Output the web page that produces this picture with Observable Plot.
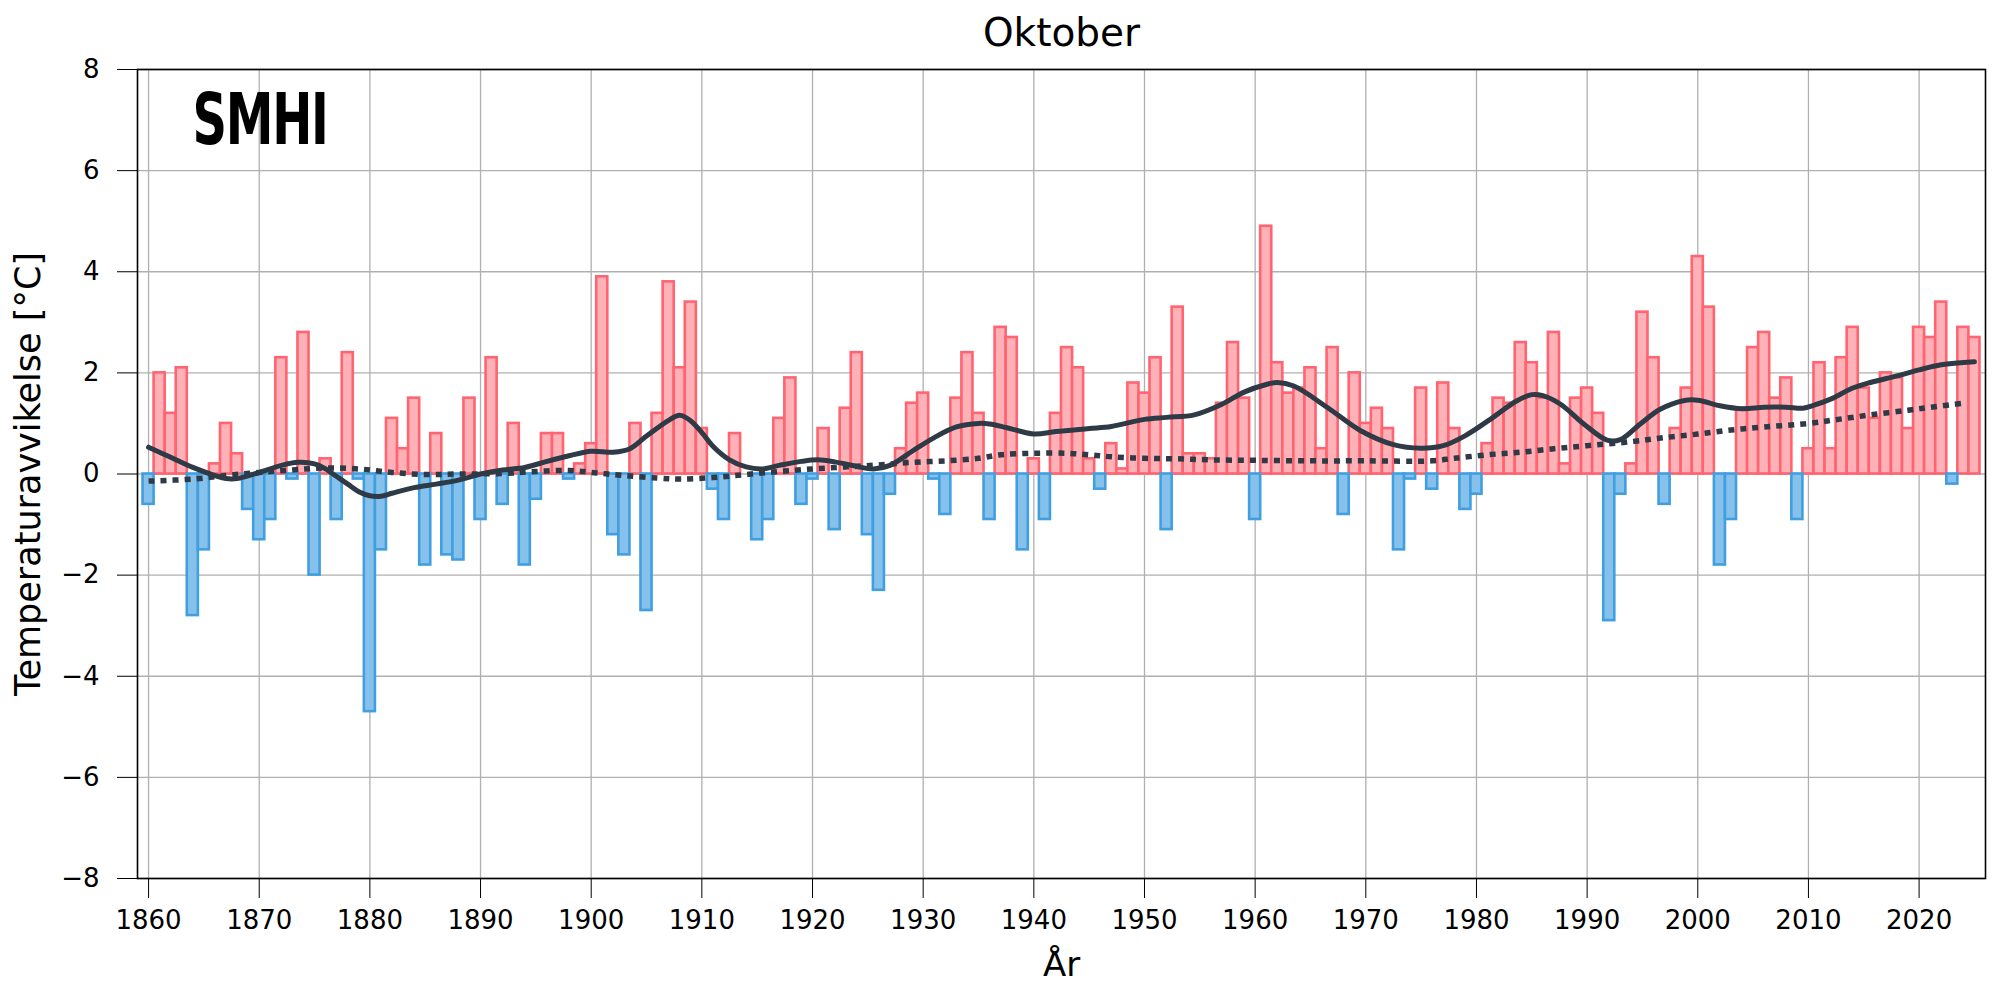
<!DOCTYPE html>
<html>
<head>
<meta charset="utf-8">
<script src="https://cdn.jsdelivr.net/npm/d3@7"></script>
<script src="https://cdn.jsdelivr.net/npm/@observablehq/plot@0.6"></script>
<style>
  html, body { margin: 0; padding: 0; background: #ffffff; }
  #chart svg { display: block; }
</style>
</head>
<body>
<div id="chart"></div>
<script>
// ---- Data ----
const years = [
  1860,1861,1862,1863,1864,1865,1866,1867,1868,1869,
  1870,1871,1872,1873,1874,1875,1876,1877,1878,1879,
  1880,1881,1882,1883,1884,1885,1886,1887,1888,1889,
  1890,1891,1892,1893,1894,1895,1896,1897,1898,1899,
  1900,1901,1902,1903,1904,1905,1906,1907,1908,1909,
  1910,1911,1912,1913,1914,1915,1916,1917,1918,1919,
  1920,1921,1922,1923,1924,1925,1926,1927,1928,1929,
  1930,1931,1932,1933,1934,1935,1936,1937,1938,1939,
  1940,1941,1942,1943,1944,1945,1946,1947,1948,1949,
  1950,1951,1952,1953,1954,1955,1956,1957,1958,1959,
  1960,1961,1962,1963,1964,1965,1966,1967,1968,1969,
  1970,1971,1972,1973,1974,1975,1976,1977,1978,1979,
  1980,1981,1982,1983,1984,1985,1986,1987,1988,1989,
  1990,1991,1992,1993,1994,1995,1996,1997,1998,1999,
  2000,2001,2002,2003,2004,2005,2006,2007,2008,2009,
  2010,2011,2012,2013,2014,2015,2016,2017,2018,2019,
  2020,2021,2022,2023,2024,2025
];
const anomalies = [
  -0.6, 2.0, 1.2, 2.1,-2.8,-1.5, 0.2, 1.0, 0.4,-0.7,
  -1.3,-0.9, 2.3,-0.1, 2.8,-2.0, 0.3,-0.9, 2.4,-0.1,
  -4.7,-1.5, 1.1, 0.5, 1.5,-1.8, 0.8,-1.6,-1.7, 1.5,
  -0.9, 2.3,-0.6, 1.0,-1.8,-0.5, 0.8, 0.8,-0.1, 0.2,
   0.6, 3.9,-1.2,-1.6, 1.0,-2.7, 1.2, 3.8, 2.1, 3.4,
   0.9,-0.3,-0.9, 0.8, 0.0,-1.3,-0.9, 1.1, 1.9,-0.6,
  -0.1, 0.9,-1.1, 1.3, 2.4,-1.2,-2.3,-0.4, 0.5, 1.4,
   1.6,-0.1,-0.8, 1.5, 2.4, 1.2,-0.9, 2.9, 2.7,-1.5,
   0.3,-0.9, 1.2, 2.5, 2.1, 0.3,-0.3, 0.6, 0.1, 1.8,
   1.6, 2.3,-1.1, 3.3, 0.4, 0.4, 0.3, 1.4, 2.6, 1.5,
  -0.9, 4.9, 2.2, 1.6, 1.7, 2.1, 0.5, 2.5,-0.8, 2.0,
   1.0, 1.3, 0.9,-1.5,-0.1, 1.7,-0.3, 1.8, 0.9,-0.7,
  -0.4, 0.6, 1.5, 1.4, 2.6, 2.2, 1.5, 2.8, 0.2, 1.5,
   1.7, 1.2,-2.9,-0.4, 0.2, 3.2, 2.3,-0.6, 0.9, 1.7,
   4.3, 3.3,-1.8,-0.9, 1.3, 2.5, 2.8, 1.5, 1.9,-0.9,
   0.5, 2.2, 0.5, 2.3, 2.9, 1.7, 1.1, 2.0, 1.9, 0.9,
   2.9, 2.7, 3.4,-0.2, 2.9, 2.7
];

// Smoothed curve (solid)
const smoothYears = [
  1860,1862,1864,1866,1867,1868,1870,1872,1873.5,1875,1876,1877,1878,1879,1880,1881,1882,1884,1886,1888,
  1890,1892,1894,1896,1898,1900,1902,1903.5,1905,1907,1908,1909,1910,1911,1912.5,1914,1915.5,1917,1919,1920.5,
  1922,1924,1925.5,1927,1929,1931,1933,1935,1936,1937.5,1940,1942,1945,1947,1950,1952,1954.5,1957,1959,1961,
  1962,1963.5,1966.5,1969.5,1972.5,1975,1977,1979,1981.5,1983.5,1985,1986,1987.6,1989.7,1991.8,1993,1994.8,1996.6,1998.7,2000,
  2002,2004,2006,2008,2009.5,2010.5,2012,2014,2015.6,2018,2020,2022,2025
];
const smoothValues = [
  0.53,0.33,0.13,-0.03,-0.09,-0.09,0.03,0.17,0.23,0.2,0.1,-0.05,-0.2,-0.35,-0.43,-0.44,-0.38,-0.27,-0.2,-0.12,
  0.0,0.08,0.13,0.25,0.36,0.45,0.43,0.5,0.75,1.06,1.16,1.05,0.82,0.55,0.28,0.14,0.1,0.17,0.25,0.28,
  0.24,0.15,0.1,0.17,0.45,0.72,0.93,1.0,0.99,0.92,0.79,0.84,0.9,0.94,1.08,1.12,1.17,1.38,1.62,1.77,
  1.81,1.74,1.32,0.86,0.58,0.51,0.56,0.76,1.12,1.43,1.57,1.55,1.38,0.99,0.67,0.68,0.99,1.28,1.45,1.46,
  1.35,1.29,1.32,1.32,1.3,1.36,1.48,1.7,1.81,1.94,2.06,2.16,2.22
];

// Long-term trend (dotted)
const trendYears = [
  1860,1864,1867,1870,1873,1876,1879,1882,1885,1888,1892,1895,1898,1900.5,1903,1906,1908,1911,1914,1917,
  1920,1923,1926,1929,1932,1935,1937,1940,1943,1945,1947,1950,1953,1956,1960,1965,1970,1976,1978,1981,
  1984,1987,1990,1994,1997,2000,2003,2006,2010,2013,2016,2019,2021,2024
];
const trendValues = [
  -0.14,-0.1,-0.03,0.03,0.08,0.12,0.1,0.03,-0.01,0.0,0.01,0.05,0.07,0.02,-0.03,-0.08,-0.1,-0.07,-0.01,0.05,
  0.1,0.14,0.18,0.23,0.26,0.31,0.38,0.41,0.41,0.38,0.34,0.31,0.3,0.28,0.27,0.26,0.26,0.26,0.31,0.38,
  0.43,0.5,0.56,0.64,0.72,0.79,0.87,0.93,1.0,1.09,1.18,1.26,1.32,1.4
];

const xTicks = [1860,1870,1880,1890,1900,1910,1920,1930,1940,1950,1960,1970,1980,1990,2000,2010,2020];
const yTicks = [-8,-6,-4,-2,0,2,4,6,8];

const titleText = "Oktober";
const xLabel = "År";
const yLabel = "Temperaturavvikelse [°C]";
const logoText = "SMHI";

// ---- Build tables ----
const bars = years.map((y, i) => ({year: y, value: anomalies[i]}));
const smooth = smoothYears.map((y, i) => ({year: y, value: smoothValues[i]}));
const trend = trendYears.map((y, i) => ({year: y, value: trendValues[i]}));

const redFill = "#ffb1b8", redStroke = "#ff6470";
const blueFill = "#86c1ec", blueStroke = "#409fe0";
const lineColor = "#2e3b47";

const chart = Plot.plot({
  width: 2000,
  height: 1000,
  marginLeft: 137,
  marginRight: 15,
  marginTop: 69,
  marginBottom: 122,
  style: {fontFamily: "DejaVu Sans", fontSize: "26px", background: "#ffffff", color: "#000000"},
  x: {domain: [1859, 2026], label: null},
  y: {domain: [-8, 8], label: null},
  marks: [
    Plot.gridX(xTicks, {stroke: "#b0b0b0", strokeOpacity: 1, strokeWidth: 1.3}),
    Plot.gridY(yTicks, {stroke: "#b0b0b0", strokeOpacity: 1, strokeWidth: 1.3}),
    Plot.rect(bars.filter(d => d.value >= 0), {
      x1: d => d.year - 0.5, x2: d => d.year + 0.5, y1: 0, y2: "value",
      fill: redFill, stroke: redStroke, strokeWidth: 2.6
    }),
    Plot.rect(bars.filter(d => d.value < 0), {
      x1: d => d.year - 0.5, x2: d => d.year + 0.5, y1: 0, y2: "value",
      fill: blueFill, stroke: blueStroke, strokeWidth: 2.6
    }),
    Plot.line(trend, {x: "year", y: "value", stroke: lineColor, strokeWidth: 5.5,
      strokeDasharray: "6,6", strokeLinecap: "butt", curve: "catmull-rom"}),
    Plot.line(smooth, {x: "year", y: "value", stroke: lineColor, strokeWidth: 5,
      curve: "catmull-rom", strokeLinecap: "round"}),
    Plot.frame({stroke: "#000000", strokeWidth: 1.6}),
    Plot.axisX({ticks: xTicks, tickFormat: d => String(d), tickSize: 20, tickPadding: 12,
      fontSize: 26, label: null, stroke: "#000000"}),
    Plot.axisY({ticks: yTicks, tickSize: 20, tickPadding: 18, fontSize: 26, label: null,
      stroke: "#000000"}),
    Plot.text([titleText], {frameAnchor: "top", dy: -36, lineAnchor: "middle",
      fontSize: 39, fill: "#000000"}),
    Plot.text([xLabel], {frameAnchor: "bottom", dy: 87, lineAnchor: "middle",
      fontSize: 34, fill: "#000000"}),
    Plot.text([yLabel], {frameAnchor: "left", dx: -109, rotate: -90, lineAnchor: "middle",
      textAnchor: "middle", fontSize: 35, fill: "#000000"}),
    Plot.text([logoText], {frameAnchor: "top-left", dx: 55, dy: 23, lineAnchor: "top",
      textAnchor: "start", fontSize: 72, fontWeight: 900, fill: "#000000"})
  ]
});

document.getElementById("chart").appendChild(chart);

// Condense the logo text horizontally to match the logotype
d3.select(chart).selectAll("text")
  .filter(function() { return this.textContent === logoText; })
  .attr("textLength", 135)
  .attr("lengthAdjust", "spacingAndGlyphs")
  .style("letter-spacing", "-2px");
</script>
</body>
</html>
